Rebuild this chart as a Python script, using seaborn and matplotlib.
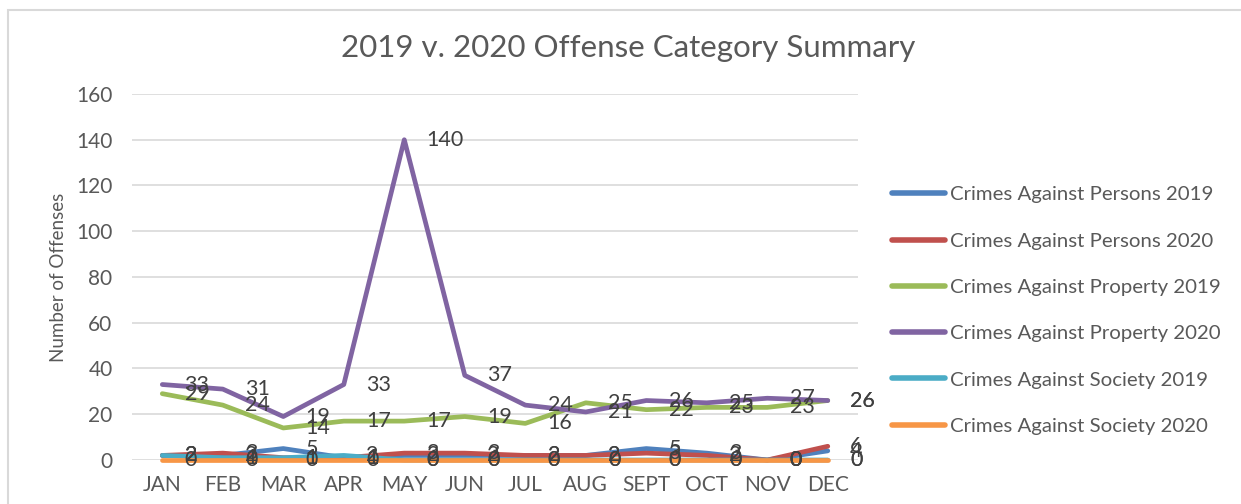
import matplotlib
matplotlib.use("Agg")
import matplotlib.pyplot as plt
import matplotlib.patches as mpatches
import seaborn as sns
import pandas as pd

months = ["JAN", "FEB", "MAR", "APR", "MAY", "JUN", "JUL", "AUG", "SEPT", "OCT", "NOV", "DEC"]

persons_2019 = [2, 2, 5, 1, 2, 2, 2, 2, 5, 3, 0, 4]
persons_2020 = [2, 3, 1, 1, 3, 3, 2, 2, 3, 2, 0, 6]
property_2019 = [29, 24, 14, 17, 17, 19, 16, 25, 22, 23, 23, 26]
property_2020 = [33, 31, 19, 33, 140, 37, 24, 21, 26, 25, 27, 26]
society_2019 = [2, 1, 1, 2, 0, 0, 0, 0, 0, 0, 0, 0]
society_2020 = [0, 0, 0, 0, 0, 0, 0, 0, 0, 0, 0, 0]

series_names = [
    "Crimes Against Persons 2019",
    "Crimes Against Persons 2020",
    "Crimes Against Property 2019",
    "Crimes Against Property 2020",
    "Crimes Against Society 2019",
    "Crimes Against Society 2020",
]
series_values = [persons_2019, persons_2020, property_2019, property_2020, society_2019, society_2020]
colors = ["#4F81BD", "#C0504D", "#9BBB59", "#8064A2", "#4BACC6", "#F79646"]

title = "2019 v. 2020 Offense Category Summary"
y_label = "Number of Offenses"
y_ticks = [0, 20, 40, 60, 80, 100, 120, 140, 160]

rows = []
for name, vals in zip(series_names, series_values):
    for i, (m, v) in enumerate(zip(months, vals)):
        rows.append({"pos": i, "month": m, "value": v, "series": name})
df = pd.DataFrame(rows)

sns.set_theme(style="white")
plt.rcParams["font.family"] = ["Lato", "DejaVu Sans"]

text_color = "#595959"
fig = plt.figure(figsize=(12.41, 5.04), dpi=100)
fig.patch.set_facecolor("white")
ax = fig.add_axes([0.1064, 0.0873, 0.585, 0.7262])

sns.lineplot(data=df, x="pos", y="value", hue="series", hue_order=series_names,
             palette=dict(zip(series_names, colors)), linewidth=3.4, ax=ax,
             legend=True, clip_on=False, sort=False)
for ln in ax.lines:
    ln.set_solid_capstyle("round")
    ln.set_solid_joinstyle("round")

ax.set_xlim(-0.5, 11.5)
ax.set_ylim(0, 160)
ax.set_yticks(y_ticks)
ax.set_xticks(range(len(months)))
ax.set_xticklabels(months)
ax.yaxis.grid(True, color="#d9d9d9", linewidth=1.2)
ax.set_axisbelow(True)
for s in ax.spines.values():
    s.set_visible(False)
ax.tick_params(axis="both", length=0, labelsize=15, colors=text_color)
ax.tick_params(axis="y", pad=14)
ax.tick_params(axis="x", pad=11)
ax.set_xlabel("")
ax.set_ylabel(y_label, fontsize=13.5, color=text_color)
ax.yaxis.set_label_coords(-0.09, 0.5)

# data labels
for name, vals in zip(series_names, series_values):
    for i, v in enumerate(vals):
        ax.annotate(str(v), (i, v), xytext=(16, 0), textcoords="offset points",
                    ha="left", va="center", fontsize=15.5, color="#404040",
                    zorder=10, annotation_clip=False)

handles, labels = ax.get_legend_handles_labels()
leg = ax.legend(handles, labels, loc="center left",
                bbox_to_anchor=(0.719, 0.384), bbox_transform=fig.transFigure,
                frameon=False, fontsize=14.7, handlelength=2.6, handletextpad=0.25,
                labelspacing=1.42, borderpad=0, borderaxespad=0)
for t in leg.get_texts():
    t.set_color(text_color)
for h in leg.get_lines():
    h.set_linewidth(4)
    h.set_solid_capstyle("round")

fig.text(0.506, 0.905, title, ha="center", va="center", fontsize=22.5, color=text_color)

border = mpatches.Rectangle((8 / 1241, -0.2), 1.2, 0.2 + 1 - 10 / 504,
                            transform=fig.transFigure, fill=False,
                            edgecolor="#d9d9d9", linewidth=1.5)
fig.patches.append(border)

fig.savefig("out.png", dpi=100, facecolor="white")
